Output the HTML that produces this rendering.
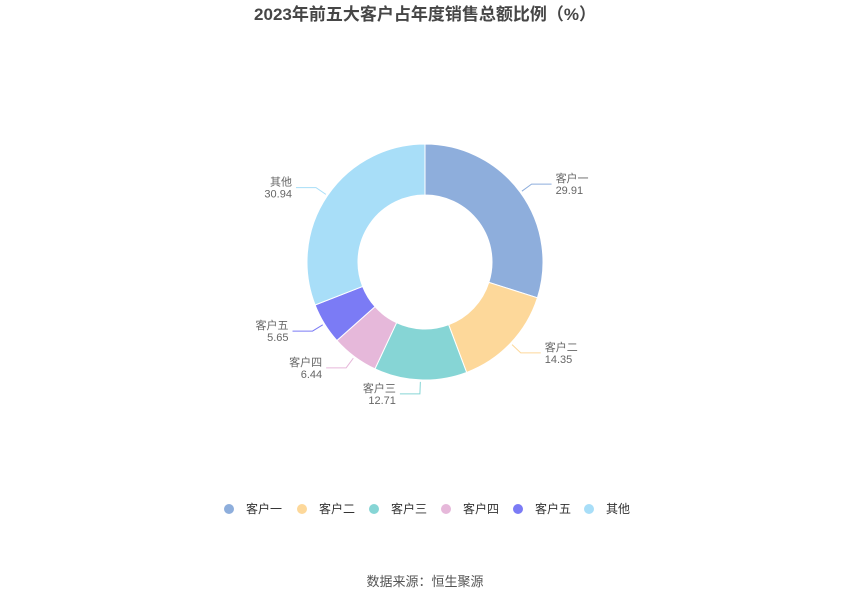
<!DOCTYPE html>
<html><head><meta charset="utf-8"><style>
body{margin:0;background:#fff;font-family:"Liberation Sans","Noto Sans CJK SC",sans-serif;}
#wrap{position:relative;width:850px;height:600px;}
</style></head><body>
<div id="wrap">
<svg id="svg" width="850" height="600" xmlns="http://www.w3.org/2000/svg">
<text x="425" y="20" text-anchor="middle" font-size="17" font-weight="bold" fill="#464646" font-family="Liberation Sans, Noto Sans CJK SC, sans-serif">2023年前五大客户占年度销售总额比例（%）</text>
<g id="pie"></g>
<g id="legend"></g>
<text x="425" y="586" text-anchor="middle" font-size="13" fill="#555" font-family="Liberation Sans, Noto Sans CJK SC, sans-serif">数据来源：恒生聚源</text>
</svg>
</div>
<script>
const categories=["客户一","客户二","客户三","客户四","客户五","其他"];
const values=[29.91,14.35,12.71,6.44,5.65,30.94];
const labels=["29.91","14.35","12.71","6.44","5.65","30.94"];
const colors=["#8eaedc","#fdd89a","#86d5d5","#e6b8da","#7b7bf5","#a8def8"];
const NS="http://www.w3.org/2000/svg";
const cx=425,cy=262,R=118,r=67;
const pie=document.getElementById('pie');
const total=values.reduce((a,b)=>a+b,0);
function pt(a,rad){return [cx+rad*Math.sin(a),cy-rad*Math.cos(a)];}
function mk(t,attrs){const e=document.createElementNS(NS,t);for(const k in attrs)e.setAttribute(k,attrs[k]);return e;}
let acc=0;
values.forEach((v,i)=>{
  const a0=acc/total*2*Math.PI;acc+=v;const a1=acc/total*2*Math.PI;
  const large=(a1-a0)>Math.PI?1:0;
  const [x0,y0]=pt(a0,R),[x1,y1]=pt(a1,R),[x2,y2]=pt(a1,r),[x3,y3]=pt(a0,r);
  const p=mk('path',{d:`M${x0},${y0}A${R},${R} 0 ${large} 1 ${x1},${y1}L${x2},${y2}A${r},${r} 0 ${large} 0 ${x3},${y3}Z`,fill:colors[i],stroke:'#fff','stroke-width':1});
  
  
  pie.appendChild(p);
  const am=(a0+a1)/2;
  const [lx0,ly0]=pt(am,R+2),[lx1,ly1]=pt(am,R+14);
  const right=Math.sin(am)>=0.02;
  const lx2=lx1+(right?20:-20);
  const l=mk('polyline',{points:`${lx0},${ly0} ${lx1},${ly1} ${lx2},${ly1}`,fill:'none',stroke:colors[i],'stroke-width':1});
  
  
  pie.appendChild(l);
  const tx=lx2+(right?4:-4);
  const t=mk('text',{x:tx,y:ly1-2,'text-anchor':right?'start':'end','font-size':11,fill:'#666'});
  
  
  const s1=mk('tspan',{x:tx,dy:0});s1.textContent=categories[i];
  const s2=mk('tspan',{x:tx,dy:12});s2.textContent=labels[i];
  t.appendChild(s1);t.appendChild(s2);pie.appendChild(t);
});
const lg=document.getElementById('legend');
const lxs=[229,302,374,446,518,589];
categories.forEach((c,i)=>{
  const g=mk('g',{});
  
  
  g.appendChild(mk('circle',{cx:lxs[i],cy:509,r:5,fill:colors[i]}));
  const t=mk('text',{x:lxs[i]+17,y:513,'font-size':12,fill:'#333'});t.textContent=c;
  g.appendChild(t);lg.appendChild(g);
});
</script>
</body></html>
